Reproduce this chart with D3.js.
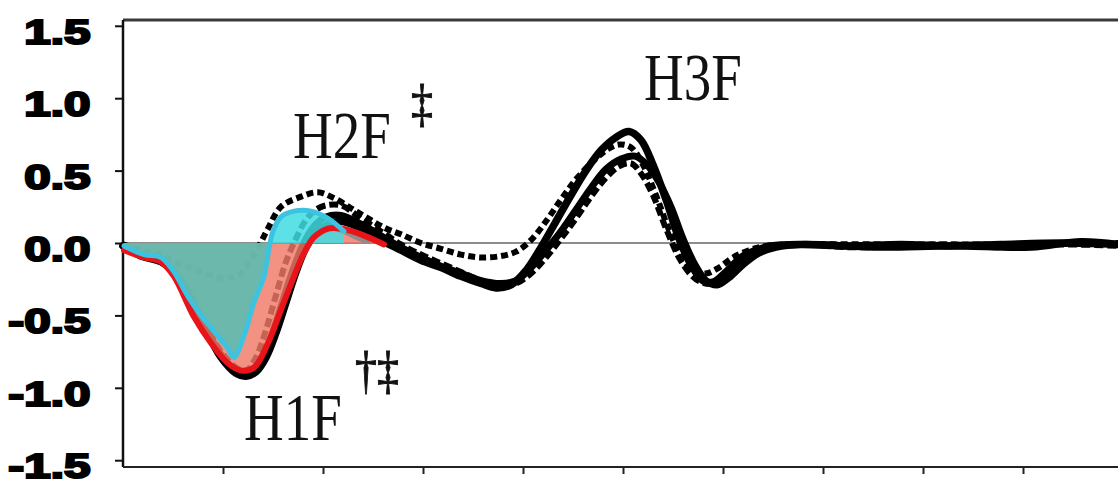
<!DOCTYPE html>
<meta charset="utf-8">
<style>
body { margin: 0; background: #fff; }
.trace { fill: none; stroke-linejoin: round; stroke-linecap: round; }
.dashed { fill: none; stroke-linejoin: round; stroke-linecap: butt; }
</style>
<body>
<script src="https://d3js.org/d3.v7.min.js"></script>
<script>

// ---- data: [time, amplitude] ----
var yTickValues = [-1.5, -1.0, -0.5, 0.0, 0.5, 1.0, 1.5];
var xTickValues = [1, 2, 3, 4, 5, 6, 7, 8, 9];

var blackSolidA = [[0.00,-0.02],[0.18,-0.09],[0.38,-0.13],[0.53,-0.22],[0.68,-0.39],[0.83,-0.60],[0.98,-0.79],[1.13,-0.90],[1.23,-0.92],[1.33,-0.89],[1.43,-0.79],[1.53,-0.62],[1.63,-0.41],[1.73,-0.20],[1.83,-0.03],[1.93,0.07],[2.03,0.12],[2.18,0.15],[2.38,0.10],[2.58,0.02],[2.78,-0.05],[2.98,-0.12],[3.18,-0.17],[3.38,-0.23],[3.58,-0.28],[3.73,-0.31],[3.88,-0.29],[4.03,-0.19],[4.18,-0.03],[4.33,0.15],[4.48,0.33],[4.63,0.50],[4.78,0.64],[4.93,0.73],[5.06,0.77],[5.18,0.71],[5.30,0.54],[5.43,0.30],[5.56,0.03],[5.68,-0.15],[5.80,-0.26],[5.90,-0.27],[6.03,-0.20],[6.18,-0.10],[6.33,-0.05],[6.48,-0.02],[6.78,-0.01],[7.28,-0.02],[7.78,-0.01],[8.28,-0.02],[8.78,-0.01],[9.38,0.00],[9.96,-0.01]];

var blackDashA = [[0.00,-0.01],[0.18,-0.08],[0.38,-0.12],[0.53,-0.20],[0.68,-0.37],[0.83,-0.57],[0.98,-0.75],[1.13,-0.86],[1.23,-0.88],[1.33,-0.79],[1.43,-0.60],[1.53,-0.36],[1.63,-0.13],[1.73,0.03],[1.83,0.16],[1.93,0.23],[2.03,0.26],[2.18,0.26],[2.38,0.17],[2.58,0.08],[2.78,-0.01],[2.98,-0.08],[3.18,-0.14],[3.38,-0.20],[3.58,-0.26],[3.78,-0.30],[3.93,-0.28],[4.08,-0.21],[4.23,-0.10],[4.38,0.03],[4.53,0.17],[4.68,0.32],[4.83,0.45],[4.96,0.53],[5.08,0.55],[5.18,0.48],[5.30,0.33],[5.43,0.10],[5.56,-0.10],[5.68,-0.22],[5.78,-0.27],[5.90,-0.28],[6.03,-0.22],[6.18,-0.13],[6.33,-0.06],[6.48,-0.03],[6.78,-0.01],[7.28,-0.03],[7.78,-0.02],[8.28,-0.01],[8.78,-0.03],[9.38,-0.01],[9.96,-0.02]];

var blackDashB = [[0.00,-0.01],[0.18,-0.05],[0.35,-0.08],[0.55,-0.14],[0.78,-0.20],[0.98,-0.24],[1.13,-0.23],[1.25,-0.15],[1.36,-0.02],[1.45,0.10],[1.58,0.25],[1.78,0.32],[1.95,0.35],[2.11,0.31],[2.28,0.24],[2.45,0.17],[2.63,0.10],[2.78,0.06],[2.98,0.00],[3.18,-0.04],[3.38,-0.08],[3.58,-0.10],[3.78,-0.09],[3.93,-0.06],[4.08,0.02],[4.23,0.15],[4.38,0.30],[4.53,0.44],[4.68,0.55],[4.83,0.64],[4.96,0.68],[5.08,0.66],[5.20,0.54],[5.33,0.33],[5.46,0.09],[5.58,-0.09],[5.70,-0.19],[5.83,-0.21],[5.96,-0.17],[6.10,-0.10],[6.26,-0.05],[6.43,-0.02],[6.78,-0.01],[7.78,-0.01],[8.78,-0.01],[9.96,0.00]];

var blackSolidB = [[0.00,-0.02],[0.18,-0.08],[0.38,-0.12],[0.53,-0.21],[0.68,-0.38],[0.83,-0.59],[0.98,-0.77],[1.13,-0.88],[1.23,-0.90],[1.33,-0.86],[1.43,-0.74],[1.53,-0.55],[1.63,-0.33],[1.73,-0.13],[1.83,0.03],[1.93,0.13],[2.03,0.18],[2.18,0.19],[2.38,0.13],[2.58,0.05],[2.78,-0.03],[2.98,-0.10],[3.18,-0.16],[3.38,-0.21],[3.58,-0.26],[3.78,-0.28],[3.93,-0.26],[4.08,-0.17],[4.23,-0.05],[4.38,0.08],[4.53,0.23],[4.68,0.38],[4.83,0.51],[4.98,0.58],[5.12,0.60],[5.24,0.54],[5.36,0.42],[5.48,0.25],[5.60,0.03],[5.72,-0.15],[5.83,-0.26],[5.94,-0.29],[6.06,-0.24],[6.20,-0.15],[6.36,-0.07],[6.53,-0.03],[6.78,-0.01],[7.58,-0.03],[8.28,-0.02],[9.08,-0.03],[9.58,0.01],[9.96,-0.01]];

var redTrace = [[0.01,-0.05],[0.21,-0.10],[0.38,-0.13],[0.51,-0.23],[0.71,-0.51],[0.88,-0.69],[1.05,-0.83],[1.18,-0.88],[1.31,-0.86],[1.45,-0.69],[1.58,-0.46],[1.71,-0.23],[1.81,-0.07],[1.91,0.04],[2.05,0.10],[2.18,0.10],[2.38,0.06],[2.61,-0.01]];

var cyanTrace = [[0.01,-0.02],[0.21,-0.08],[0.38,-0.10],[0.51,-0.20],[0.65,-0.37],[0.78,-0.50],[0.91,-0.61],[1.05,-0.73],[1.11,-0.79],[1.21,-0.64],[1.31,-0.41],[1.41,-0.23],[1.46,-0.04],[1.50,0.08],[1.58,0.18],[1.71,0.22],[1.88,0.22],[2.05,0.17],[2.21,0.08]];

var grayTrace = [[2.05,0.11],[2.20,0.08],[2.35,0.03],[2.45,0.01]];

var peakLabels = ["H1F", "H2F", "H3F"];
var markH1 = "\u2020\u2021";
var markH2 = "\u2021";

// ---- layout ----
var width = 1118, height = 486;
var svg = d3.select("body").append("svg")
    .attr("width", width)
    .attr("height", height);

var x = d3.scaleLinear().domain([0, 9.96]).range([123, 1119]);
var y = d3.scaleLinear().domain([-1.54, 1.54]).range([466, 20]);

var line = d3.line()
    .x(function(d) { return x(d[0]); })
    .y(function(d) { return y(d[1]); })
    .curve(d3.curveCatmullRom);

var areaBelow = d3.area()
    .x(function(d) { return x(d[0]); })
    .y0(y(0))
    .y1(function(d) { return y(Math.min(0, d[1])); })
    .curve(d3.curveCatmullRom);

var areaAbove = d3.area()
    .x(function(d) { return x(d[0]); })
    .y0(y(0))
    .y1(function(d) { return y(Math.max(0, d[1])); })
    .curve(d3.curveCatmullRom);

// frame: top border
svg.append("line")
    .attr("x1", 123).attr("x2", width)
    .attr("y1", 20).attr("y2", 20)
    .attr("stroke", "#3a3a3a").attr("stroke-width", 3);

// zero line
svg.append("line")
    .attr("x1", 123).attr("x2", width)
    .attr("y1", y(0)).attr("y2", y(0))
    .attr("stroke", "#666").attr("stroke-width", 1.5);

// Y axis
var yAxis = svg.append("g")
    .attr("transform", "translate(123,0)")
    .call(d3.axisLeft(y).tickValues(yTickValues).tickSize(8).tickSizeOuter(0)
        .tickFormat(function(d) { return d.toFixed(1); }));
yAxis.select(".domain").attr("stroke", "#111").attr("stroke-width", 2.5)
    .attr("d", "M0," + 20 + "V" + 467);
yAxis.selectAll(".tick line").attr("stroke", "#111").attr("stroke-width", 2);
yAxis.selectAll(".tick text")
    .attr("x", -24)
    .attr("dy", "0.5em")
    .attr("transform", "scale(1.36,1)")
    .attr("font-family", "'Liberation Sans', Arial, sans-serif")
    .attr("font-weight", "bold")
    .attr("font-size", 35)
    .attr("fill", "#000")
    .attr("stroke", "#000")
    .attr("stroke-width", 2.2);

// X axis (ticks only)
var xAxis = svg.append("g")
    .attr("transform", "translate(0,467)")
    .call(d3.axisBottom(x).tickValues(xTickValues).tickSize(7).tickSizeOuter(0).tickFormat(""));
xAxis.select(".domain").attr("stroke", "#222").attr("stroke-width", 2)
    .attr("d", "M123,0H" + width);
xAxis.selectAll(".tick line").attr("stroke", "#222").attr("stroke-width", 2);

// black traces
svg.append("path").datum(blackSolidB).attr("class", "trace")
    .attr("stroke", "#000").attr("stroke-width", 7).attr("d", line);
svg.append("path").datum(blackSolidA).attr("class", "trace")
    .attr("stroke", "#000").attr("stroke-width", 7.5).attr("d", line);
svg.append("path").datum(blackDashA).attr("class", "dashed")
    .attr("stroke", "#000").attr("stroke-width", 6)
    .attr("stroke-dasharray", "9,4").attr("d", line);
svg.append("path").datum(blackDashB).attr("class", "dashed")
    .attr("stroke", "#000").attr("stroke-width", 6)
    .attr("stroke-dasharray", "7,4").attr("d", line);

// coloured overlays
svg.append("path").datum(redTrace)
    .attr("fill", "#f07a68").attr("fill-opacity", 0.82)
    .attr("d", areaBelow);
svg.append("path").datum(redTrace)
    .attr("fill", "#f07a68").attr("fill-opacity", 0.82)
    .attr("d", areaAbove);
svg.append("path").datum(cyanTrace)
    .attr("fill", "#5dbdb0").attr("fill-opacity", 0.9)
    .attr("d", areaBelow);
svg.append("path").datum(cyanTrace)
    .attr("fill", "#3fdde2").attr("fill-opacity", 0.85)
    .attr("d", areaAbove);

svg.append("path").datum(grayTrace).attr("class", "trace")
    .attr("stroke", "#8c8c8c").attr("stroke-width", 4).attr("d", line);
svg.append("path").datum(redTrace).attr("class", "trace")
    .attr("stroke", "#e8141a").attr("stroke-width", 6).attr("d", line);
svg.append("path").datum(cyanTrace).attr("class", "trace")
    .attr("stroke", "#3cc3e0").attr("stroke-width", 5).attr("d", line);

// peak labels
var labelPos = [[1.21, -1.36], [1.70, 0.59], [5.21, 0.99]];
peakLabels.forEach(function(t, i) {
    svg.append("text")
        .attr("transform", "translate(" + x(labelPos[i][0]) + "," + y(labelPos[i][1]) + ") scale(1,1.22)")
        .attr("font-family", "'Liberation Serif', 'Times New Roman', serif")
        .attr("font-size", 55)
        .attr("fill", "#111")
        .text(t);
});

svg.append("text")
    .attr("transform", "translate(" + x(2.99) + "," + y(0.84) + ") scale(1,1.2)")
    .attr("text-anchor", "middle")
    .attr("font-family", "'Liberation Serif', 'Times New Roman', serif")
    .attr("font-size", 44)
    .attr("fill", "#111")
    .attr("stroke", "#111")
    .attr("stroke-width", 0.8)
    .text(markH2);

svg.append("text")
    .attr("transform", "translate(" + x(2.32) + "," + y(-1.00) + ") scale(1,1.2)")
    .attr("font-family", "'Liberation Serif', 'Times New Roman', serif")
    .attr("font-size", 44)
    .attr("fill", "#111")
    .attr("stroke", "#111")
    .attr("stroke-width", 0.8)
    .text(markH1);

</script>
</body>
